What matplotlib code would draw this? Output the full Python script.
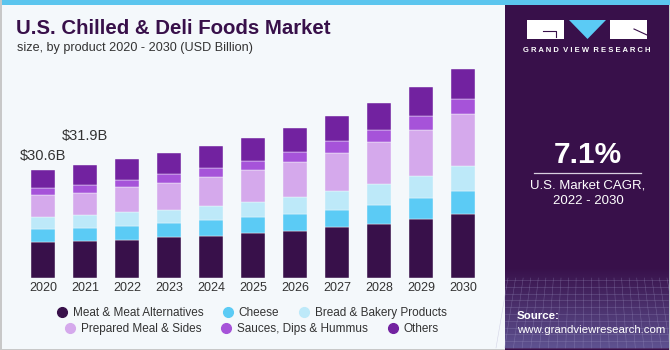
import matplotlib
matplotlib.use('Agg')
from matplotlib import pyplot as plt
from matplotlib.patches import Rectangle, Polygon
from matplotlib.lines import Line2D
import numpy as np

plt.rcParams['font.family'] = ['Liberation Sans', 'DejaVu Sans']

# data (USD billion)
years = ['2020', '2021', '2022', '2023', '2024', '2025',
         '2026', '2027', '2028', '2029', '2030']
meat = [10.3, 10.4, 10.8, 11.6, 11.9, 12.7, 13.4, 14.5, 15.3, 16.7, 18.2]
cheese = [3.5, 3.7, 4.1, 4.1, 4.5, 4.5, 4.9, 4.9, 5.4, 6.1, 6.4]
bread = [3.4, 3.7, 3.7, 3.7, 4.1, 4.3, 4.8, 5.3, 5.8, 6.2, 7.0]
prepared = [6.2, 6.4, 7.1, 7.6, 8.2, 9.0, 9.8, 10.7, 11.9, 13.0, 14.9]
sauces = [2.0, 2.1, 2.1, 2.5, 2.5, 2.5, 2.8, 3.4, 3.5, 3.9, 4.1]
others = [5.2, 5.6, 5.8, 5.8, 6.1, 6.7, 6.7, 7.0, 7.5, 8.0, 8.4]
segments = ['Meat & Meat Alternatives', 'Cheese', 'Bread & Bakery Products',
            'Prepared Meal & Sides', 'Sauces, Dips & Hummus', 'Others']
value_labels = {0: '$30.6B', 1: '$31.9B'}

colors = ['#38104A', '#5BCBF5', '#BDE9F9', '#D5A9EC', '#A653D9', '#7222A0']
bg_col = '#F4F8FB'
dark = '#38104A'

W, H = 670, 350
fig = plt.figure(figsize=(W / 100, H / 100), dpi=100, facecolor=bg_col)

# background layer in pixel coordinates
bg = fig.add_axes([0, 0, 1, 1], zorder=0)
bg.set_xlim(0, W)
bg.set_ylim(H, 0)
bg.axis('off')
bg.add_patch(Rectangle((0, 0), W, 5, color='#5BC5EE', lw=0))
bg.add_patch(Rectangle((0, 0), 1.5, H, color='#C8C8C8', lw=0))
bg.add_patch(Rectangle((0, H - 1.5), W, 1.5, color='#C8C8C8', lw=0))

# right panel
px0 = 505
bg.add_patch(Rectangle((px0, 5), W - px0, H - 5, color=dark, lw=0))
grad = np.linspace(0, 1, 100)[:, None]
bg.imshow(grad, extent=(px0, W - 1.5, H - 1.5, 268), aspect='auto',
          cmap=matplotlib.colors.LinearSegmentedColormap.from_list(
              'p', [dark, '#5E5290']), zorder=1)
for yy in np.linspace(280, 348, 11):
    bg.plot([px0, W - 2], [yy, yy], color='#A29CC8', lw=0.4, alpha=0.4, zorder=2)
for xx in np.linspace(px0 + 3, W - 3, 22):
    bg.plot([xx, xx + (xx - 588) * 0.15], [278, 348], color='#A29CC8', lw=0.4,
            alpha=0.4, zorder=2)
bg.add_patch(Rectangle((W - 1.5, 5), 1.5, H, color='#C8C8C8', lw=0, zorder=3))

# logo
bg.add_patch(Rectangle((527, 20), 37, 19, color='white', lw=0, zorder=3))
bg.plot([543, 556, 556], [31, 31, 37], color=dark, lw=0.8, zorder=4)
bg.add_patch(Polygon([(569, 20), (606, 20), (587.5, 39)], color='#5BCBF5', lw=0, zorder=3))
bg.add_patch(Rectangle((610, 20), 37, 19, color='white', lw=0, zorder=3))
bg.plot([634, 647], [29, 35], color=dark, lw=0.8, zorder=4)
bg.text(587, 51, 'G R A N D  V I E W  R E S E A R C H',
        color='white', fontsize=5.5, fontweight='bold', ha='center', va='center', zorder=4)

bg.text(588, 155, '7.1%', color='white', fontsize=21.5, fontweight='bold',
        ha='center', va='center', zorder=4)
bg.plot([534, 641], [173, 173], color='#D8D0E0', lw=0.9, zorder=4)
bg.text(588, 186, 'U.S. Market CAGR,', color='white', fontsize=9.5,
        ha='center', va='center', zorder=4)
bg.text(588, 201, '2022 - 2030', color='white', fontsize=9.5,
        ha='center', va='center', zorder=4)
bg.text(517, 316, 'Source:', color='white', fontsize=8.2, fontweight='bold',
        ha='left', va='center', zorder=4)
bg.text(517, 330, 'www.grandviewresearch.com', color='white', fontsize=8.2,
        ha='left', va='center', zorder=4)

# titles
bg.text(16, 28.5, 'U.S. Chilled & Deli Foods Market', color=dark, fontsize=14.7,
        fontweight='bold', ha='left', va='center')
bg.text(17, 48.5, 'size, by product 2020 - 2030 (USD Billion)', color='#333333',
        fontsize=9.1, ha='left', va='center')

# main chart
ax_l, ax_r, ax_b, ax_t = 10, 496, 278.3, 60
ax = fig.add_axes([ax_l / W, 1 - ax_b / H, (ax_r - ax_l) / W, (ax_b - ax_t) / H], zorder=2)
ax.patch.set_alpha(0)
x = np.arange(len(years))
bottom = np.zeros(len(years))
for vals, col, name in zip([meat, cheese, bread, prepared, sauces, others], colors, segments):
    ax.bar(x, vals, 0.571, bottom=bottom, color=col, label=name,
           edgecolor=bg_col, linewidth=0.3)
    bottom += np.array(vals)

offsets = {0: 10, 1: 21.5}
for i, txt in value_labels.items():
    ax.annotate(txt, xy=(x[i], bottom[i]), xytext=(0, offsets[i]),
                textcoords='offset points', ha='center', va='center',
                fontsize=10.5, color='#333333')

ax.set_xlim(-0.786, 10.786)
ax.set_ylim(0, (ax_b - ax_t) / 3.54)
ax.set_xticks(x)
ax.set_xticklabels(years, fontsize=9, color='#333333')
ax.tick_params(axis='x', length=0, pad=3)
ax.set_yticks([])
for s in ax.spines.values():
    s.set_visible(False)

handles = [Line2D([], [], marker='o', ls='', color=c, markersize=7) for c in colors]
legend_kw = dict(frameon=False, ncol=3, fontsize=8.5, handlelength=0.8,
                 handletextpad=0.5, columnspacing=1.7, labelcolor='#333333',
                 loc='center', borderaxespad=0)
fig.legend(handles[:3], segments[:3], bbox_to_anchor=(252 / W, 1 - 312.7 / H), **legend_kw)
fig.legend(handles[3:], segments[3:], bbox_to_anchor=(252 / W, 1 - 328.7 / H), **legend_kw)

fig.savefig('out.png', dpi=100, facecolor=bg_col)
